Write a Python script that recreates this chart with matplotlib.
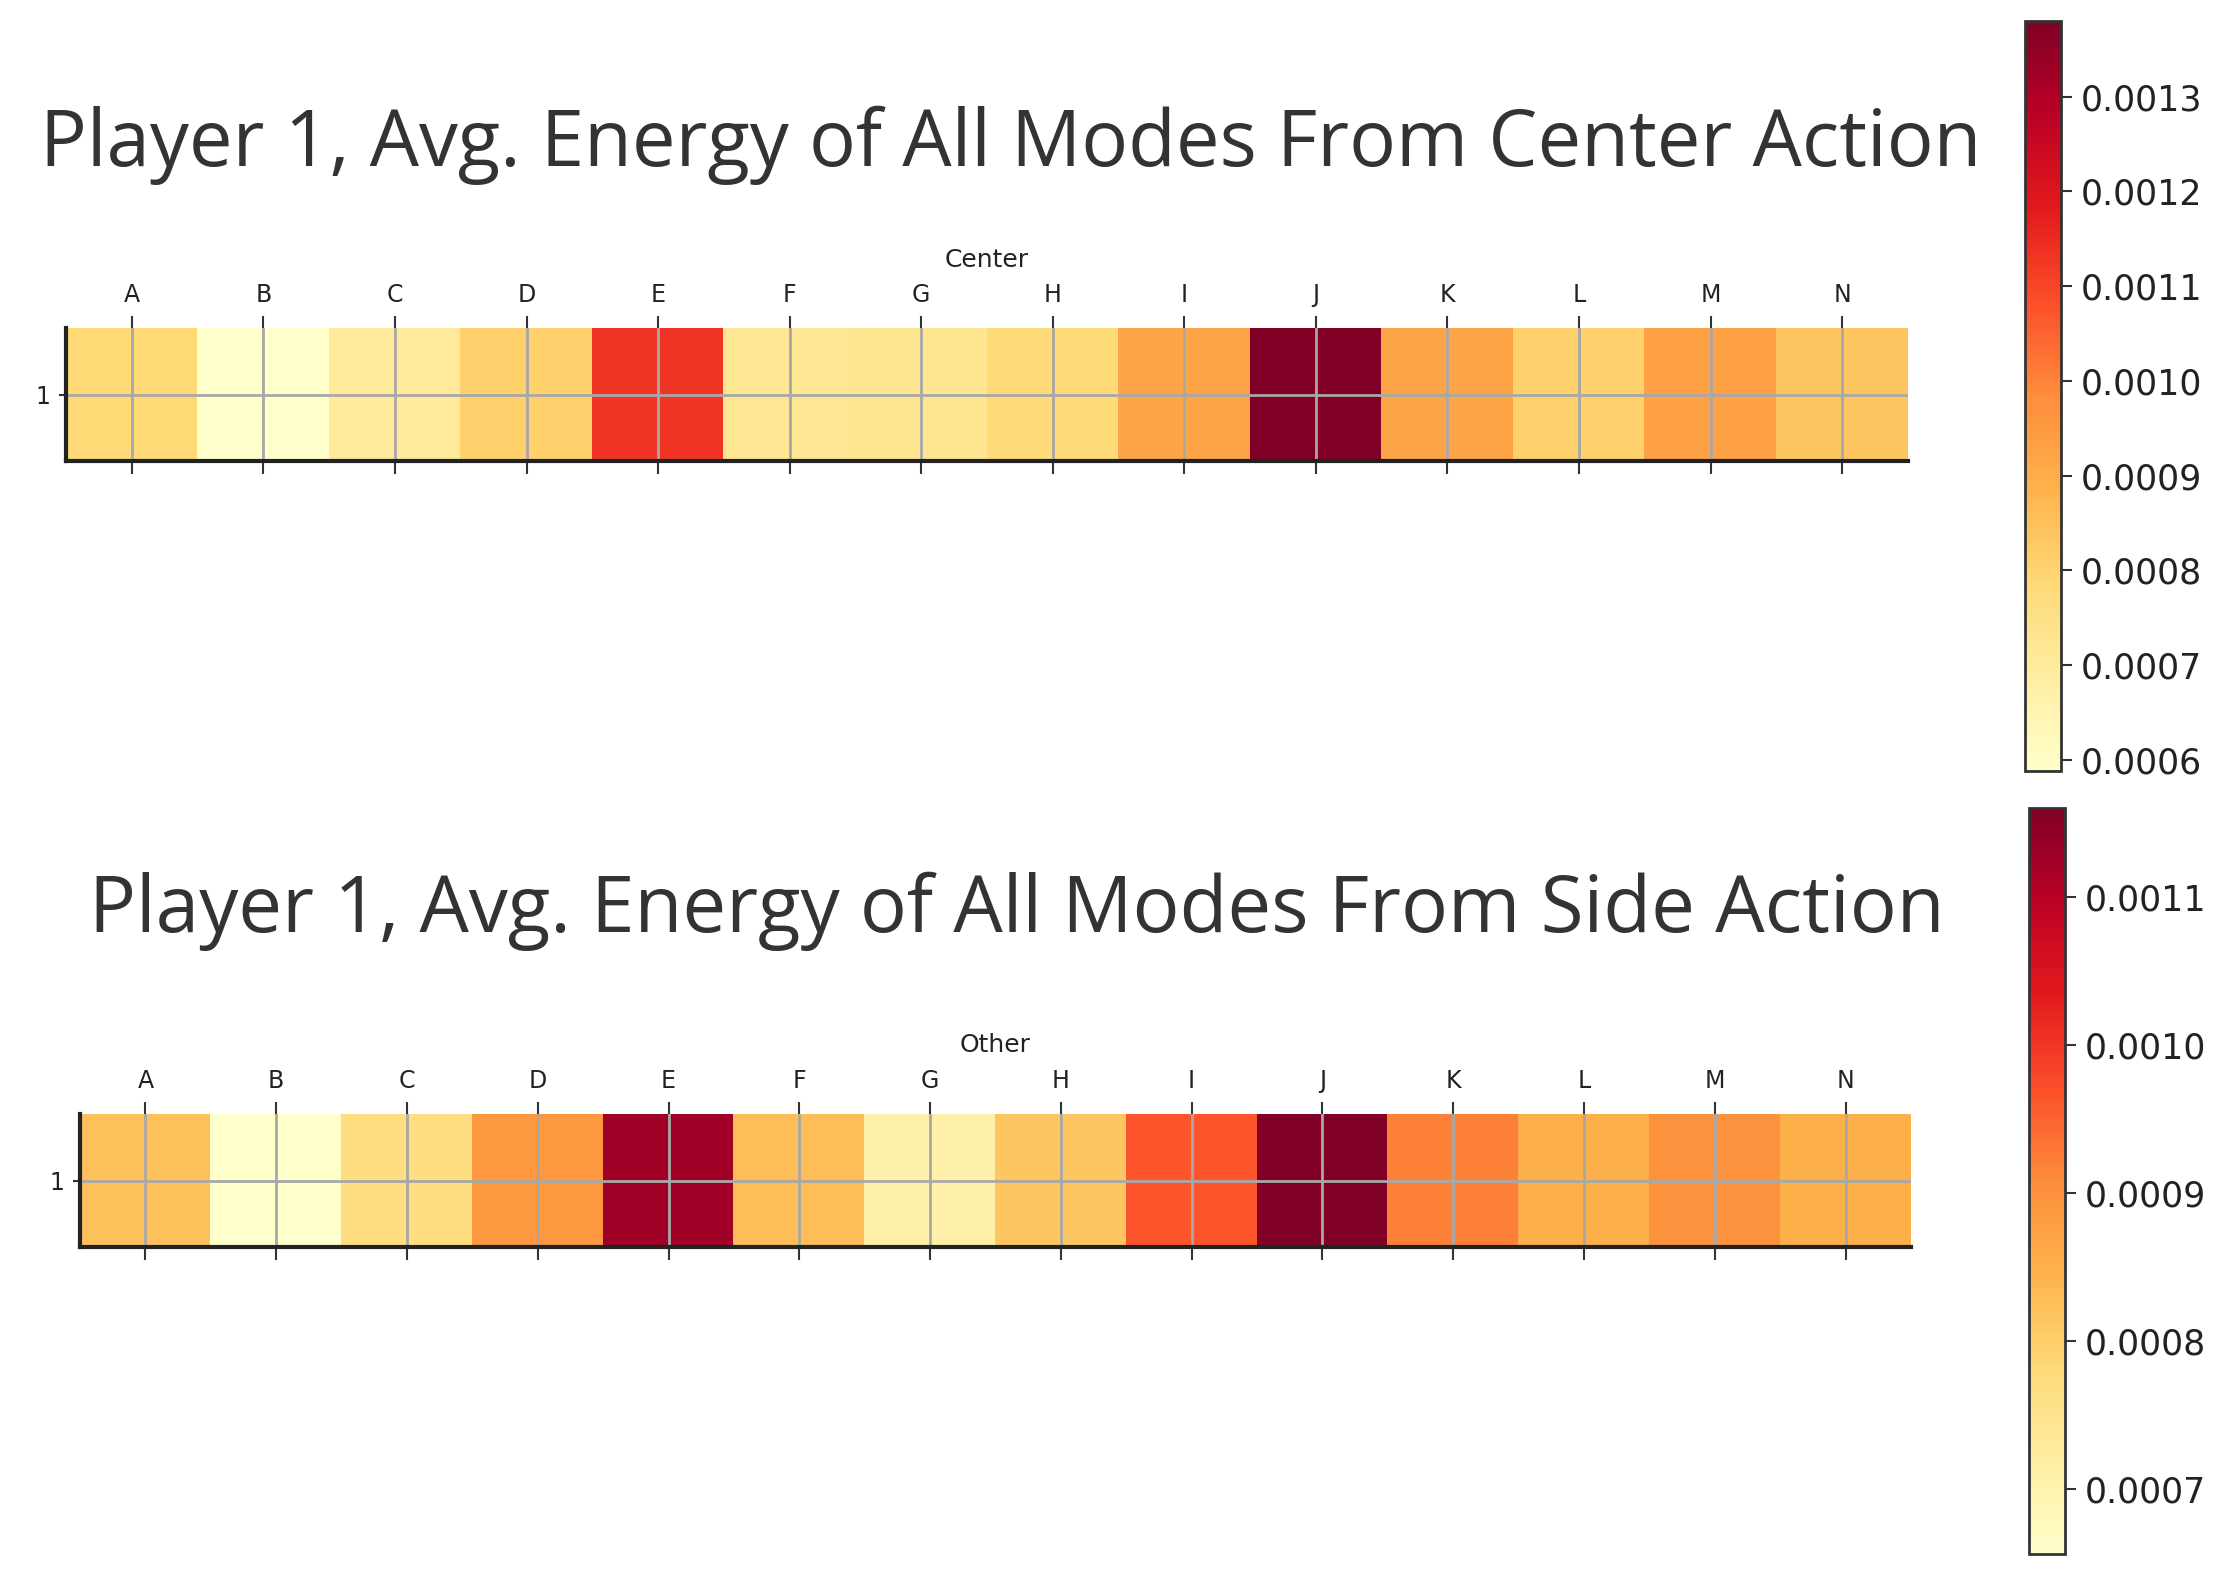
import numpy as np
import matplotlib
matplotlib.use("Agg")
import matplotlib.pyplot as plt
from matplotlib.ticker import MultipleLocator, FormatStrFormatter

modes = list("ABCDEFGHIJKLMN")
row_labels = ["1"]

center_vals = [0.000785, 0.000588, 0.000700, 0.000805, 0.001130, 0.000720, 0.000725,
               0.000780, 0.000920, 0.001380, 0.000920, 0.000805, 0.000930, 0.000835]
side_vals = [0.000822, 0.000656, 0.000765, 0.000890, 0.001125, 0.000827, 0.000706,
             0.000812, 0.000965, 0.001160, 0.000920, 0.000850, 0.000900, 0.000850]

titles = ["Player 1, Avg. Energy of All Modes From Center Action",
          "Player 1, Avg. Energy of All Modes From Side Action"]
xlabels = ["Center", "Other"]

W, H = 2239, 1584
fig = plt.figure(figsize=(W / 100, H / 100), dpi=100)

ax_pos = [[66 / W, 1 - 461 / H, 1842 / W, 133 / H],
          [80 / W, 1 - 1247 / H, 1831 / W, 133 / H]]
cb_pos = [[2025 / W, 1 - 771 / H, 36 / W, 750 / H],
          [2029 / W, 1 - 1554 / H, 36 / W, 746 / H]]
title_xy = [(1011 / W, 1 - 145 / H), (1017 / W, 1 - 911 / H)]
title_w = [1939, 1855]

for k, vals in enumerate([center_vals, side_vals]):
    data = np.array([vals])
    ax = fig.add_axes(ax_pos[k])
    im = ax.imshow(data, cmap="YlOrRd", aspect="auto", interpolation="nearest")
    ax.set_xticks(np.arange(len(modes)))
    ax.set_xticklabels(modes)
    ax.set_yticks(np.arange(len(row_labels)))
    ax.set_yticklabels(row_labels)
    ax.xaxis.set_ticks_position("both")
    ax.xaxis.set_label_position("top")
    ax.tick_params(axis="x", top=True, bottom=True, labeltop=True, labelbottom=False,
                   length=9, width=1.5, color="#333333", labelsize=17, pad=6,
                   labelcolor="#222222")
    ax.tick_params(axis="y", length=5, width=1.5, color="#333333", labelsize=17, pad=6,
                   labelcolor="#222222")
    ax.set_xlabel(xlabels[k], fontsize=18, labelpad=12, color="#222222")
    ax.grid(True, color="#a8a8a8", linewidth=2.0)
    for s in ["top", "right"]:
        ax.spines[s].set_visible(False)
    for s in ["left", "bottom"]:
        ax.spines[s].set_color("#222222")
        ax.spines[s].set_linewidth(3)

    cax = fig.add_axes(cb_pos[k])
    cb = fig.colorbar(im, cax=cax)
    cb.locator = MultipleLocator(0.0001)
    cb.formatter = FormatStrFormatter("%.4f")
    cb.update_ticks()
    cb.outline.set_edgecolor("#333333")
    cb.outline.set_linewidth(2)
    cax.tick_params(labelsize=25, length=8, width=1.5, colors="#333333", pad=6,
                    labelcolor="#222222")

    t = fig.text(title_xy[k][0], title_xy[k][1], titles[k], ha="center", va="center",
                 fontsize=48, color="#333333", family="Open Sans")
    fig.canvas.draw()
    bb = t.get_window_extent()
    t.set_fontsize(48 * title_w[k] / bb.width)

fig.savefig("out.png", dpi=100, facecolor="white")
